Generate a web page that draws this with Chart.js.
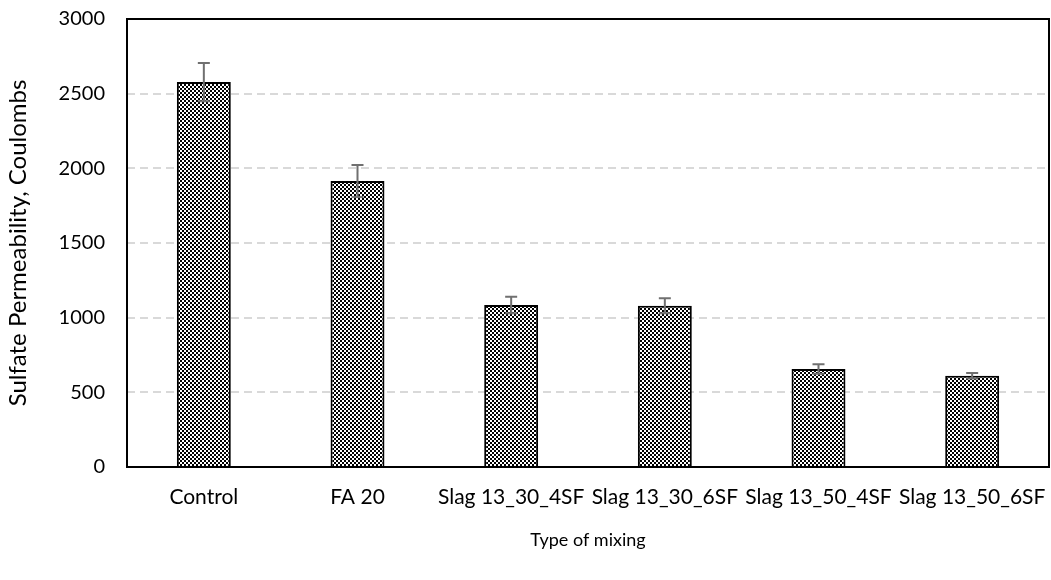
<!DOCTYPE html>
<html><head><meta charset="utf-8">
<script src="https://cdn.jsdelivr.net/npm/chart.js@4"></script>
<style>html,body{margin:0;padding:0;background:#fff}#wrap{width:1051px;height:580px}</style>
</head><body><div id="wrap"><canvas id="c" width="1051" height="580"></canvas></div>
<script>
const categories = ['Control', 'FA 20', 'Slag 13_30_4SF', 'Slag 13_30_6SF', 'Slag 13_50_4SF', 'Slag 13_50_6SF'];
const permeability = [2578, 1915, 1085, 1080, 656, 611];
const errorValues = [128, 107, 55, 50, 32, 18];
const yMin = 0, yMax = 3000, yStep = 500;
const xTitle = 'Type of mixing';
const yTitle = 'Sulfate Permeability, Coulombs';

function makePattern() {
  const p = document.createElement('canvas');
  p.width = 4; p.height = 4;
  const g = p.getContext('2d');
  g.fillStyle = '#fff'; g.fillRect(0, 0, 4, 4);
  g.fillStyle = '#000';
  g.fillRect(0, 0, 2, 2); g.fillRect(2, 2, 2, 2);
  return document.getElementById('c').getContext('2d').createPattern(p, 'repeat');
}

const FONT = 'Lato, "Open Sans", sans-serif';

const frameAndErrors = {
  id: 'frameAndErrors',
  afterDatasetsDraw(chart) {
    const ctx = chart.ctx, a = chart.chartArea, ys = chart.scales.y;
    ctx.save();
    ctx.strokeStyle = '#000'; ctx.lineWidth = 2;
    ctx.strokeRect(a.left, a.top, a.right - a.left, a.bottom - a.top);
    const meta = chart.getDatasetMeta(0);
    ctx.strokeStyle = '#707070'; ctx.lineWidth = 2;
    meta.data.forEach((bar, i) => {
      const v = permeability[i], e = errorValues[i];
      const yt = ys.getPixelForValue(v + e), yb = ys.getPixelForValue(v - e);
      const x = bar.x, w = 6;
      ctx.beginPath();
      ctx.moveTo(x, yt); ctx.lineTo(x, yb);
      ctx.moveTo(x - w, yt); ctx.lineTo(x + w, yt);
      ctx.moveTo(x - w, yb); ctx.lineTo(x + w, yb);
      ctx.stroke();
    });
    ctx.restore();
  }
};

new Chart(document.getElementById('c'), {
  type: 'bar',
  data: {
    labels: categories,
    datasets: [{
      data: permeability,
      backgroundColor: makePattern(),
      borderColor: '#000',
      borderWidth: 2,
      categoryPercentage: 1,
      barPercentage: 0.351
    }]
  },
  options: {
    responsive: false,
    animation: false,
    devicePixelRatio: 1,
    layout: { padding: { top: 19, right: 2, left: 0, bottom: 0 } },
    plugins: { legend: { display: false }, tooltip: { enabled: false } },
    scales: {
      x: {
        grid: { display: false, drawTicks: false },
        border: { display: false },
        ticks: { color: '#000', font: { family: FONT, size: 21 }, padding: 18, autoSkip: false, maxRotation: 0, minRotation: 0 },
        title: { display: true, text: xTitle, color: '#000', font: { family: FONT, size: 18 }, padding: { top: 0, bottom: 29 } },
        afterFit(s) { s.height = 113; s.paddingLeft = 0; s.paddingRight = 0; s.paddingTop = 0; s.paddingBottom = 0; }
      },
      y: {
        min: yMin, max: yMax,
        grid: {
          drawTicks: false,
          color: (c) => (c.tick && (c.tick.value === yMin || c.tick.value === yMax)) ? 'rgba(0,0,0,0)' : '#d9d9d9',
          lineWidth: 2
        },
        border: { display: false, dash: [8, 5] },
        ticks: { stepSize: yStep, color: '#000', font: { family: FONT, size: 20 }, padding: 22, callback: (v) => String(v) },
        title: { display: true, text: yTitle, color: '#000', font: { family: FONT, size: 24 }, padding: { top: 4, bottom: 0 } },
        afterFit(s) { s.width = 127; s.paddingLeft = 0; s.paddingRight = 0; s.paddingTop = 0; s.paddingBottom = 0; }
      }
    }
  },
  plugins: [frameAndErrors]
});
</script></body></html>
